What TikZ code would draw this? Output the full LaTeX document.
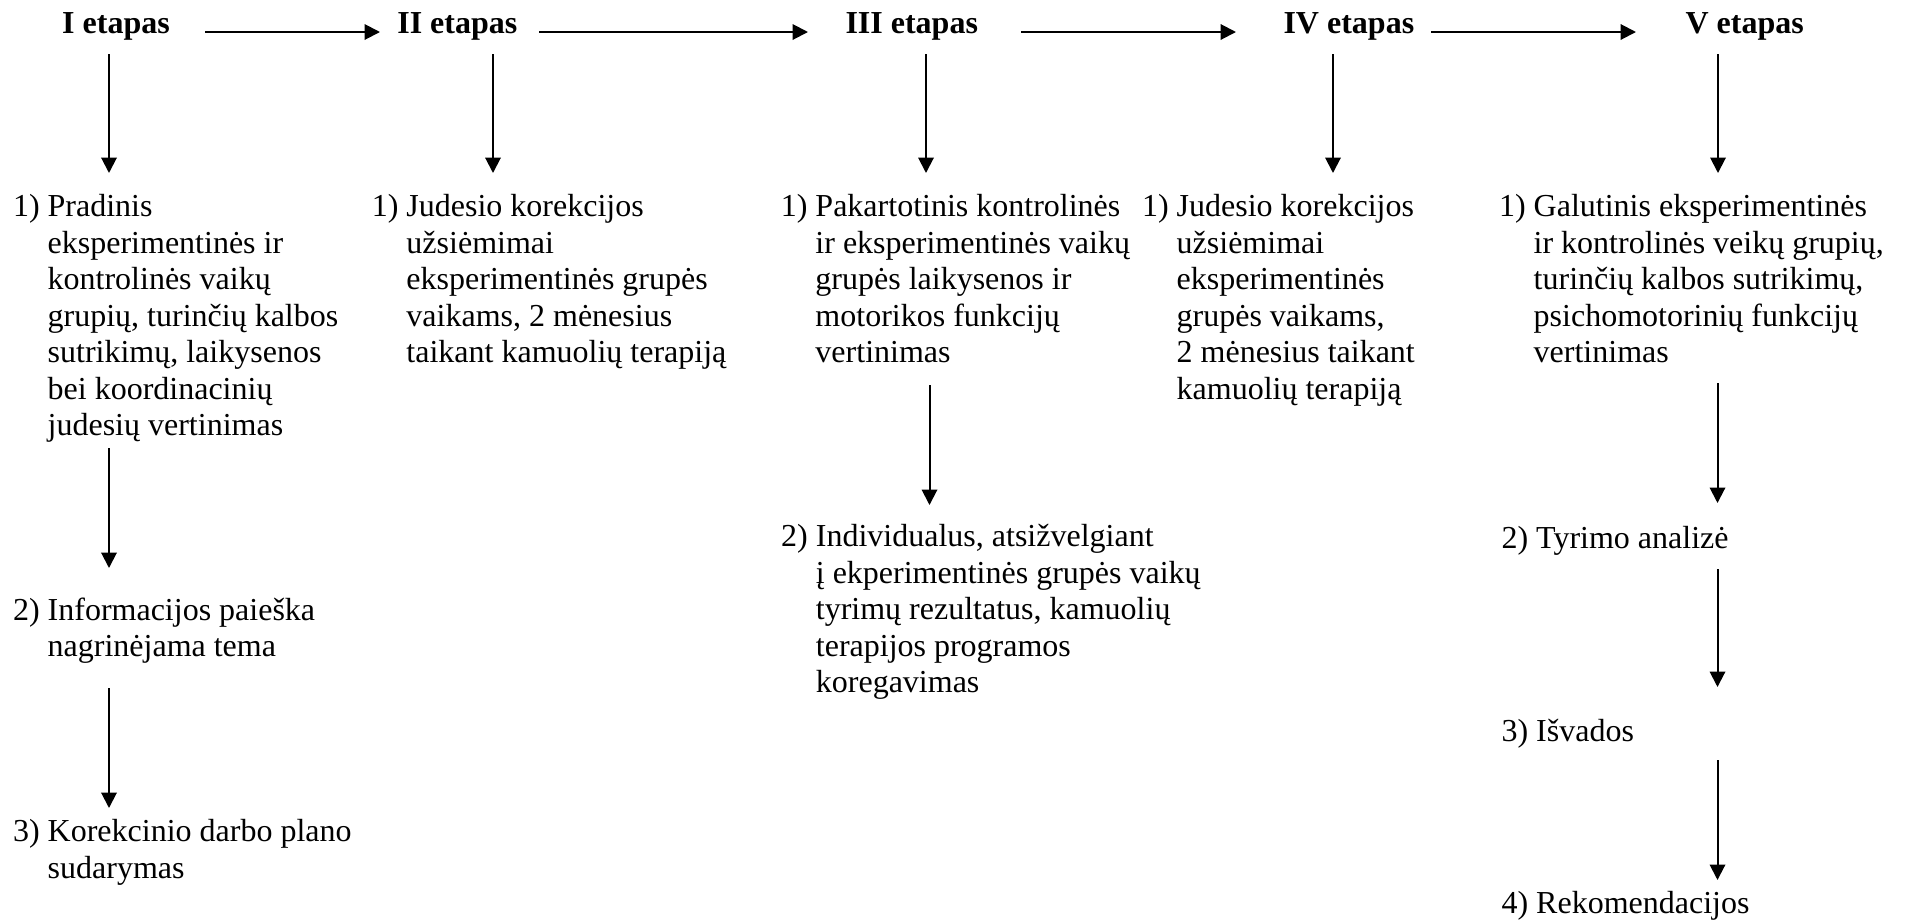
\documentclass[tikz,border=0pt]{standalone}
\usepackage{fontspec}
\setmainfont{Liberation Serif}
\usetikzlibrary{arrows.meta}
\tikzset{
  txt/.style={anchor=base west, inner sep=0pt, font=\fontsize{12}{13.69}\selectfont},
  hdr/.style={anchor=base west, inner sep=0pt, font=\fontsize{12}{13.69}\selectfont\bfseries},
  arr/.style={line width=0.75pt, -{Triangle[length=5.8pt,width=5.8pt]}}
}
\begin{document}
\begin{tikzpicture}[x=0.375pt,y=-0.375pt]
\useasboundingbox (0,0) rectangle (1908,922);
% headers
\node[hdr] (h1) at (61.7,33.3) {I etapas};
\node[hdr] (h2) at (396.8,33.3) {II etapas};
\node[hdr] (h3) at (845,33.3) {III etapas};
\node[hdr] (h4) at (1283,33.3) {IV etapas};
\node[hdr] (h5) at (1685,33.3) {V etapas};
% horizontal arrows
\coordinate (p1s) at (205,32); \coordinate (p1e) at (380,32);
\coordinate (p2s) at (539,32); \coordinate (p2e) at (808,32);
\coordinate (p3s) at (1021,32); \coordinate (p3e) at (1236,32);
\coordinate (p4s) at (1431,32); \coordinate (p4e) at (1636,32);
\draw[arr] (p1s) -- (p1e);
\draw[arr] (p2s) -- (p2e);
\draw[arr] (p3s) -- (p3e);
\draw[arr] (p4s) -- (p4e);
% texts column I
\node[txt] (t1a) at (12.5,216.7) {\begin{tabular}[t]{@{}l@{\ }l@{}}1)&Pradinis\\&eksperimentinės ir\\&kontrolinės vaikų\\&grupių, turinčių kalbos\\&sutrikimų, laikysenos\\&bei koordinacinių\\&judesių vertinimas\end{tabular}};
\node[txt] (t1b) at (12.5,620) {\begin{tabular}[t]{@{}l@{\ }l@{}}2)&Informacijos paieška\\&nagrinėjama tema\end{tabular}};
\node[txt] (t1c) at (12.5,841.7) {\begin{tabular}[t]{@{}l@{\ }l@{}}3)&Korekcinio darbo plano\\&sudarymas\end{tabular}};
% column II
\node[txt] (t2a) at (371.3,216.7) {\begin{tabular}[t]{@{}l@{\ }l@{}}1)&Judesio korekcijos\\&užsiėmimai\\&eksperimentinės grupės\\&vaikams, 2 mėnesius\\&taikant kamuolių terapiją\end{tabular}};
% column III
\node[txt] (t3a) at (780.3,216.7) {\begin{tabular}[t]{@{}l@{\ }l@{}}1)&Pakartotinis kontrolinės\\&ir eksperimentinės vaikų\\&grupės laikysenos ir\\&motorikos funkcijų\\&vertinimas\end{tabular}};
\node[txt] (t3b) at (780.7,546.7) {\begin{tabular}[t]{@{}l@{\ }l@{}}2)&Individualus, atsižvelgiant\\&į ekperimentinės grupės vaikų\\&tyrimų rezultatus, kamuolių\\&terapijos programos\\&koregavimas\end{tabular}};
% column IV
\node[txt] (t4a) at (1141.5,216.7) {\begin{tabular}[t]{@{}l@{\ }l@{}}1)&Judesio korekcijos\\&užsiėmimai\\&eksperimentinės\\&grupės vaikams,\\&2 mėnesius taikant\\&kamuolių terapiją\end{tabular}};
% column V
\node[txt] (t5a) at (1498.5,216.7) {\begin{tabular}[t]{@{}l@{\ }l@{}}1)&Galutinis eksperimentinės\\&ir kontrolinės veikų grupių,\\&turinčių kalbos sutrikimų,\\&psichomotorinių funkcijų\\&vertinimas\end{tabular}};
\node[txt] (t5b) at (1501,548) {2) Tyrimo analizė};
\node[txt] (t5c) at (1501,741) {3) Išvados};
\node[txt] (t5d) at (1501,913.3) {4) Rekomendacijos};
% vertical arrow coordinates
\coordinate (v1s) at (109,54);   \coordinate (v1e) at (109,173);
\coordinate (v1bs) at (109,448); \coordinate (v1be) at (109,568);
\coordinate (v1cs) at (109,688); \coordinate (v1ce) at (109,808);
\coordinate (v2s) at (493,54);   \coordinate (v2e) at (493,173);
\coordinate (v3s) at (926,54);   \coordinate (v3e) at (926,173);
\coordinate (v3bs) at (929.5,385); \coordinate (v3be) at (929.5,505);
\coordinate (v4s) at (1333,54);  \coordinate (v4e) at (1333,173);
\coordinate (v5s) at (1718,54);  \coordinate (v5e) at (1718,173);
\coordinate (v5bs) at (1717.5,383); \coordinate (v5be) at (1717.5,503);
\coordinate (v5cs) at (1717.5,569); \coordinate (v5ce) at (1717.5,687);
\coordinate (v5ds) at (1717.5,760); \coordinate (v5de) at (1717.5,880);
\draw[arr] (v1s) -- (v1e);
\draw[arr] (v1bs) -- (v1be);
\draw[arr] (v1cs) -- (v1ce);
\draw[arr] (v2s) -- (v2e);
\draw[arr] (v3s) -- (v3e);
\draw[arr] (v3bs) -- (v3be);
\draw[arr] (v4s) -- (v4e);
\draw[arr] (v5s) -- (v5e);
\draw[arr] (v5bs) -- (v5be);
\draw[arr] (v5cs) -- (v5ce);
\draw[arr] (v5ds) -- (v5de);
\end{tikzpicture}
\end{document}
